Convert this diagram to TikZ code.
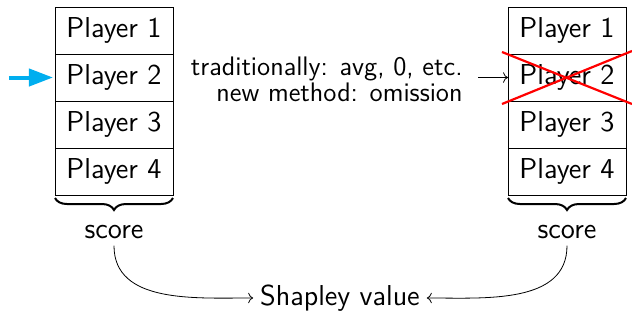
\documentclass[tikz,border=0pt]{standalone}
\usepackage{tikz}
\usetikzlibrary{arrows.meta,positioning,decorations.pathreplacing}

\definecolor{cueblue}{RGB}{0,174,239}

\begin{document}
\begin{tikzpicture}[
    player/.style={draw, minimum width=59pt, minimum height=23.5pt, outer sep=0pt, inner sep=0pt, font=\sffamily\Large},
    label/.style={font=\sffamily\Large},
    note/.style={align=right, inner xsep=7.5pt, font=\sffamily\fontsize{13.4}{13}\selectfont},
    bracket/.style={decorate, decoration={brace, mirror, amplitude=6pt}, line width=1pt},
    cue/.style={cueblue, line width=2pt, -{Triangle[length=12pt, width=8.5pt]}, shorten >=1pt},
    cross/.style={red, line width=1.1pt}
]
\useasboundingbox (0,0) rectangle (11.105,-5.623);

% Left column (all players)
\node[player] (l1) at (2.003,-0.536) {Player 1};
\node[player, below=0pt of l1] (l2) {Player 2};
\node[player, below=0pt of l2] (l3) {Player 3};
\node[player, below=0pt of l3] (l4) {Player 4};

% Right column (player 2 removed)
\node[player] (r1) at (9.963,-0.536) {Player 1};
\node[player, below=0pt of r1] (r2) {Player 2};
\node[player, below=0pt of r2] (r3) {Player 3};
\node[player, below=0pt of r3] (r4) {Player 4};

% Braces and scores
\draw[bracket] ([yshift=-1.5pt]l4.south west) -- ([yshift=-1.5pt]l4.south east);
\draw[bracket] ([yshift=-1.5pt]r4.south west) -- ([yshift=-1.5pt]r4.south east);
\node[label, below=11.5pt of l4] (lscore) {score};
\node[label, below=11.5pt of r4] (rscore) {score};

% Blue cue on player 2
\coordinate[left=23pt of l2.west] (start);
\draw[cue] (start) -- (l2.west);

% Middle text
\node[note, left=15pt of r2, yshift=-1pt] (method) {traditionally: avg, 0, etc.\\new method: omission};
\draw[->] (method.east |- r2.west) -- (r2.west);

% Cross out player 2
\draw[cross] ([shift={(-3pt,1pt)}]r2.north west) -- ([shift={(3pt,-1.5pt)}]r2.south east);
\draw[cross] ([shift={(-3pt,-1.5pt)}]r2.south west) -- ([shift={(3pt,1.5pt)}]r2.north east);

% Shapley value
\node[label] (shapley) at (5.974,-5.236) {Shapley value};
\draw[->] (lscore) to[out=-90, in=180] (shapley);
\draw[->] (rscore) to[out=-90, in=0] (shapley);

\end{tikzpicture}
\end{document}
